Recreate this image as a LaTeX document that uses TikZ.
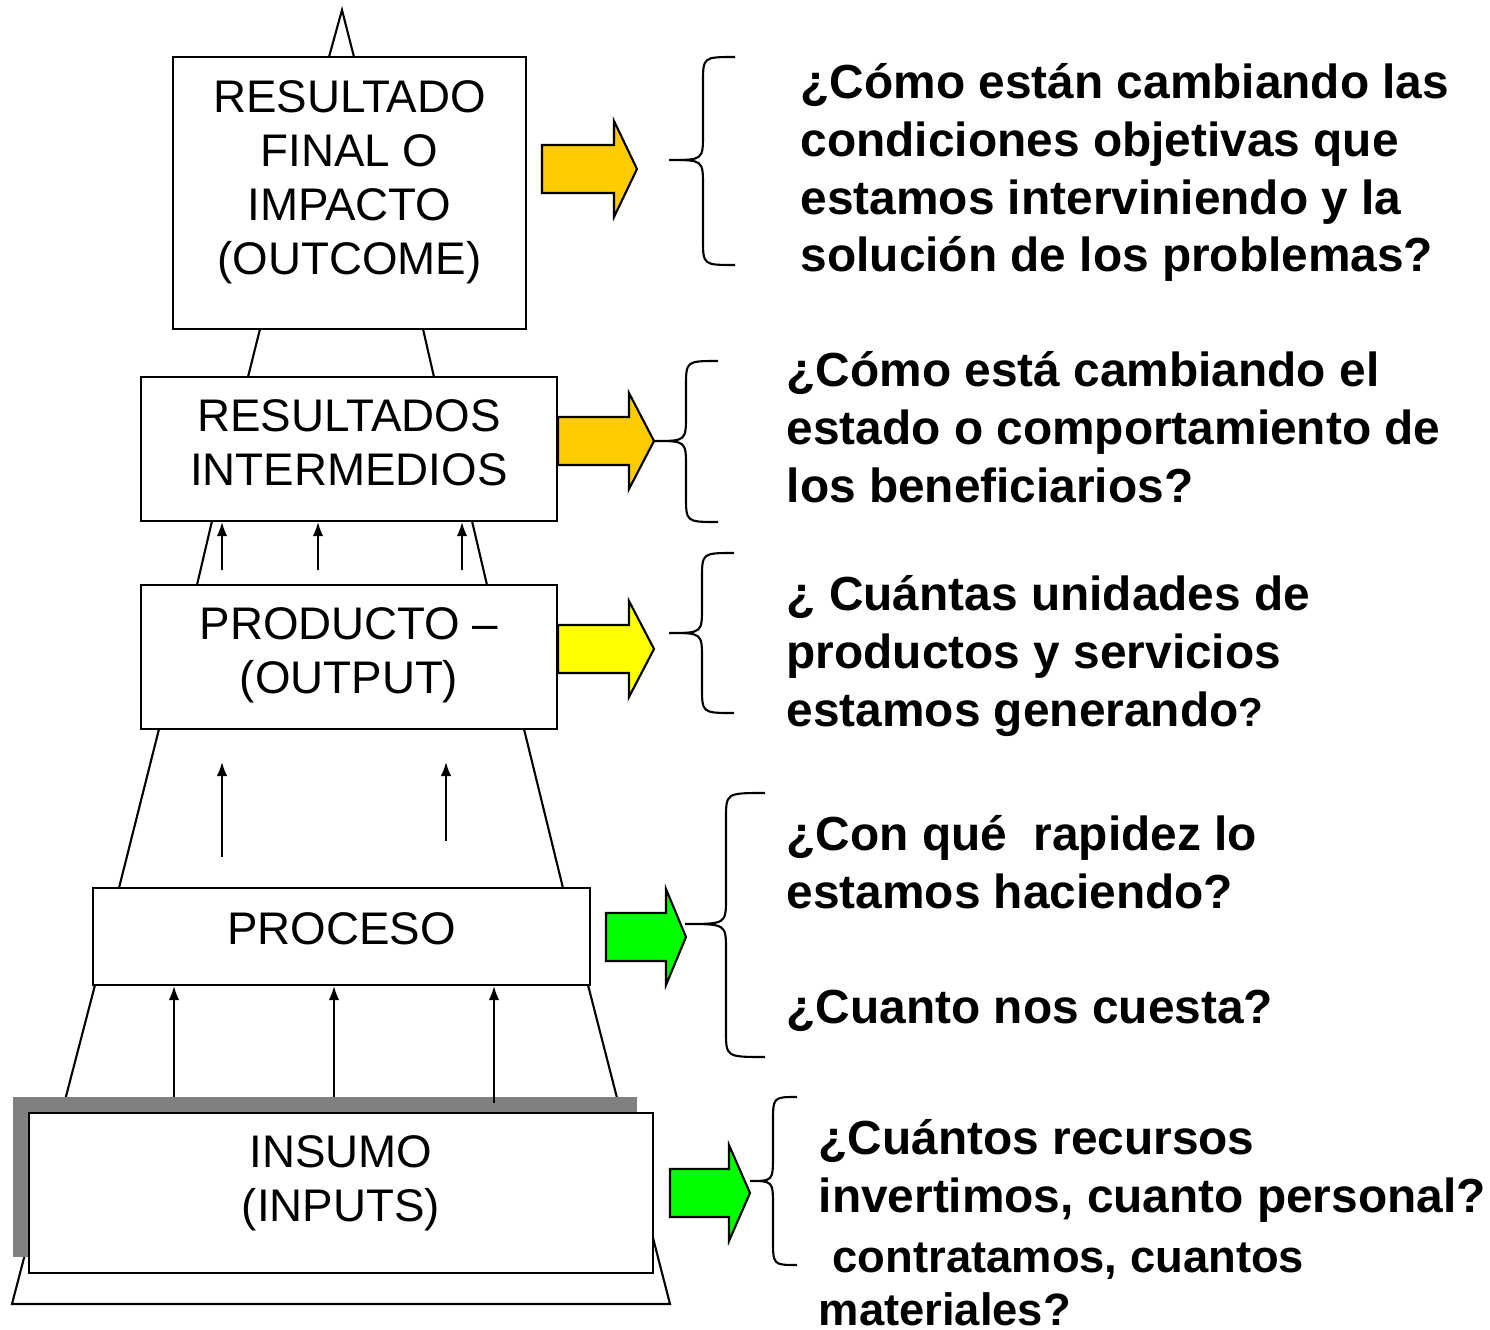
\documentclass[tikz,border=0pt]{standalone}
\usepackage{fontspec}
\setmainfont{Liberation Sans}
\usetikzlibrary{positioning}
\usetikzlibrary{arrows.meta}
\usetikzlibrary{calc}
\definecolor{orangearrow}{HTML}{FFCC00}
\definecolor{yellowarrow}{HTML}{FFFF00}
\definecolor{greenarrow}{HTML}{00FF00}
\definecolor{shadowgray}{HTML}{808080}
\newcommand{\stagefont}{\fontsize{13}{15.4}\selectfont}
\newcommand{\askfont}{\fontsize{13.6}{16.4}\selectfont\bfseries}
\newcommand{\smallaskfont}{\fontsize{12.9}{15.1}\selectfont\bfseries}
\tikzstyle{stage}=[draw, fill=white, line width=0.6pt, inner sep=0pt]
\tikzstyle{stagetext}=[align=center, inner sep=0pt, font=\stagefont]
\tikzstyle{question}=[anchor=north west, align=left, inner sep=0pt, font=\askfont]
\tikzstyle{bigarrow}=[draw, line width=0.6pt, line join=miter]
\tikzstyle{bracket}=[draw, line width=0.6pt]
\tikzstyle{rim}=[line width=0.6pt]
\tikzstyle{up}=[-{Latex[length=4pt,width=3pt]}, line width=0.5pt]

\begin{document}
\begin{tikzpicture}[x=0.01cm, y=-0.01cm]
  \useasboundingbox (0,0) rectangle (1490,1330);

  % pyramid sides
  \draw[rim] (95,985) -- (12,1304) -- (670,1304) -- (588,985);
  \draw[rim] (159,729) -- (119,888);
  \draw[rim] (524,729) -- (563,888);
  \draw[rim] (212,521) -- (197,585);
  \draw[rim] (472,521) -- (487,585);
  \draw[rim] (260,329) -- (248,377);
  \draw[rim] (423,329) -- (434,377);
  \draw[rim] (329,57) -- (342,10) -- (354,57);

  \fill[shadowgray] (13,1097) rectangle (637,1257);

  % the five levels
  \node[stage, minimum width=3.53cm, minimum height=2.72cm,
        label={[stagetext, yshift=0.105cm]center:{RESULTADO\\FINAL O\\IMPACTO\\(OUTCOME)}}] (impacto) at (349.5,193) {};
  \node[stage, minimum width=4.16cm, minimum height=1.44cm,
        label={[stagetext, yshift=0.06cm]center:{RESULTADOS\\INTERMEDIOS}}] (intermedios) at (349,449) {};
  \node[stage, minimum width=4.16cm, minimum height=1.44cm,
        label={[stagetext, yshift=0.02cm]center:{PRODUCTO --\\(OUTPUT)}}] (producto) at (349,657) {};
  \node[stage, minimum width=4.97cm, minimum height=0.97cm,
        label={[stagetext, yshift=0.08cm]center:{PROCESO}}] (proceso) at (341.5,936.5) {};
  \node[stage, minimum width=6.24cm, minimum height=1.60cm,
        label={[stagetext, yshift=0.1cm]center:{INSUMO\\(INPUTS)}}] (insumo) at (341,1193) {};

  % flows upward
  \foreach \x/\n in {222/a, 318/b, 462/c}
  {
    \coordinate (p\n) at (\x,570);
    \draw[up] (p\n) -- (p\n |- intermedios.south);
  }
  \foreach \x/\y/\n in {222/857/a, 446/841/b}
  {
    \coordinate (s\n) at (\x,\y);
    \coordinate (e\n) at (\x,762);
    \draw[up] (s\n) -- (e\n);
  }
  \foreach \x/\y/\n in {174/1097/a, 334/1097/b, 494/1103/c}
  {
    \coordinate (i\n) at (\x,\y);
    \draw[up] (i\n) -- (i\n |- proceso.south);
  }

  % block arrows
  \foreach \xs/\xb/\xt/\yc/\col in {542/614/637/169/orangearrow, 558/629/654/441/orangearrow, 558/629/654/649/yellowarrow, 606/666/686/937/greenarrow, 670/729/750/1193/greenarrow}
    \draw[bigarrow, fill=\col] (\xs,\yc-24) -- (\xb,\yc-24) -- (\xb,\yc-48) -- (\xt,\yc) -- (\xb,\yc+48) -- (\xb,\yc+24) -- (\xs,\yc+24) -- cycle;

  % braces
  \foreach \xe/\xs/\xt/\yt/\ym/\yb in {735/703/669/57/160/265, 718/686/654/361/441/522, 734/702/669/553/633/713, 765/726/685/793/924/1057, 797/773/750/1097/1181/1265}
    \draw[bracket] (\xe,\yt) .. controls (\xs,\yt) .. (\xs,\yt+26) -- (\xs,\ym-26) .. controls (\xs,\ym) .. (\xt,\ym) .. controls (\xs,\ym) .. (\xs,\ym+26) -- (\xs,\yb-26) .. controls (\xs,\yb) .. (\xe,\yb);

  % questions
  \node[question] (q-impacto) at (800,63) {¿Cómo están cambiando las\\condiciones objetivas que\\estamos interviniendo y la\\solución de los problemas?};
  \node[question] (q-intermedios) at (786,351) {¿Cómo está cambiando el\\estado o comportamiento de\\los beneficiarios?};
  \node[question] (q-producto) at (786,575) {¿ Cuántas unidades de\\productos y servicios\\estamos generando{\fontsize{11.5}{16.4}\selectfont ?}};
  \node[question] (q-proceso) at (786,815) {¿Con qué\ \ rapidez lo\\estamos haciendo?\\[16.4pt]¿Cuanto nos cuesta?};
  \node[question] (q-insumo) at (818,1119) {¿Cuántos recursos\\invertimos, cuanto personal?};
  \node[question, font=\smallaskfont] (q-insumo-fin) at (818,1242) {\hspace*{0.14cm}contratamos, cuantos\\materiales?};

\end{tikzpicture}
\end{document}
